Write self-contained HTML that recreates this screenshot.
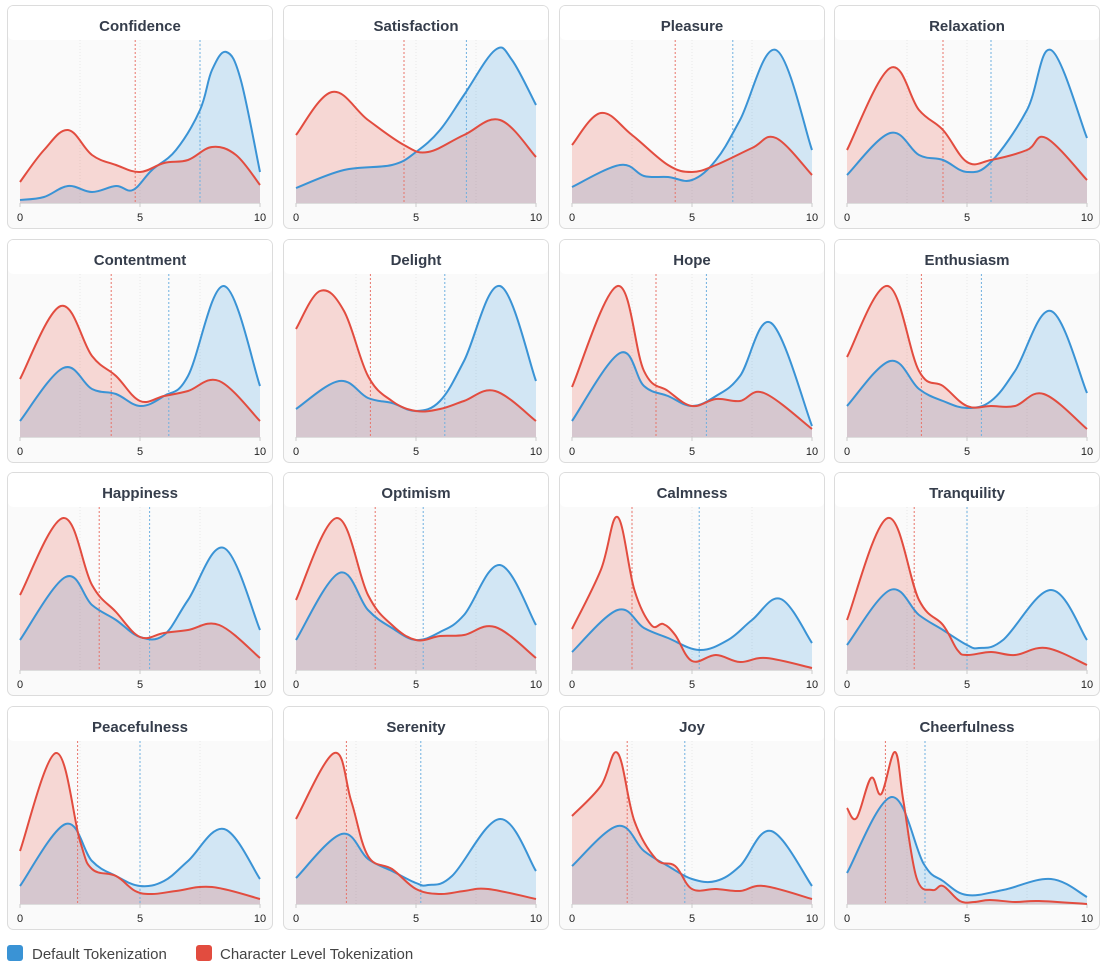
<!DOCTYPE html>
<html><head><meta charset="utf-8"><style>
body{margin:0;background:#fff;width:1106px;height:970px;overflow:hidden;font-family:"Liberation Sans","DejaVu Sans",sans-serif}
</style></head><body>
<svg id="s" width="1106" height="970" xmlns="http://www.w3.org/2000/svg" style="position:absolute;left:0;top:0">
<text x="32" y="959" font-size="15" fill="#444" font-family="Liberation Sans, sans-serif">Default Tokenization</text>
<text x="220" y="959" font-size="15" fill="#444" font-family="Liberation Sans, sans-serif">Character Level Tokenization</text>
<rect x="7" y="945" width="16" height="16" rx="3" fill="#3a93d5"/>
<rect x="196" y="945" width="16" height="16" rx="3" fill="#e24c3f"/>
</svg>
<script>
var P=[
["Confidence",4.8,7.5,[[0,3],[1,6],[2,17],[3,11],[4,17],[4.7,13],[5.5,33],[6.5,53],[7.5,93],[8,133],[8.6,151],[9.2,123],[10,31]],[[0,21],[1,53],[2,73],[3,48],[4,38],[5,31],[6,40],[7,43],[8,56],[9,48],[10,18]]],
["Satisfaction",4.5,7.1,[[0,15],[2,33],[4,38],[5,51],[6,73],[7,108],[8.3,153],[9,143],[10,98]],[[0,68],[1.5,111],[3,83],[4.5,58],[5.5,51],[7,68],[8.5,83],[10,46]]],
["Pleasure",4.3,6.7,[[0,16],[2,38],[3,27],[4,26],[5,23],[6,43],[7,83],[8.5,153],[10,53]],[[0,58],[1.2,90],[2.5,68],[4,38],[5,31],[6,38],[7.5,55],[8.5,65],[10,28]]],
["Relaxation",4.0,6.0,[[0,28],[1.8,70],[3,48],[4,43],[5,31],[6,41],[7.5,93],[8.5,153],[10,65]],[[0,53],[1.8,135],[3,93],[4,73],[5,41],[6,43],[7.5,53],[8.3,65],[10,23]]],
["Contentment",3.8,6.2,[[0,16],[1.8,69],[3,48],[4,43],[5,31],[6,41],[7,61],[8.5,151],[10,51]],[[0,58],[1.7,131],[3,81],[4,61],[5,36],[6,41],[7,46],[8.3,56],[10,16]]],
["Delight",3.1,6.2,[[0,28],[1.8,56],[3,39],[4,34],[5,26],[6,36],[7,76],[8.5,151],[10,56]],[[0,108],[1,146],[2,126],[3,61],[4,36],[5,26],[6,28],[7,36],[8.3,46],[10,16]]],
["Hope",3.5,5.6,[[0,16],[2,84],[3,51],[4,41],[5,31],[6,41],[7,61],[8.3,114],[10,11]],[[0,50],[1.9,151],[3,66],[4,46],[5,31],[6,38],[7,36],[8,44],[10,8]]],
["Enthusiasm",3.1,5.6,[[0,31],[1.8,76],[3,48],[4,36],[5,29],[6,36],[7,66],[8.5,126],[10,44]],[[0,80],[1.7,151],[3,66],[4,51],[5,31],[6,31],[7,31],[8.2,43],[10,8]]],
["Happiness",3.3,5.4,[[0,30],[1.9,93],[3,65],[4,50],[5,33],[6,35],[7,70],[8.5,122],[10,40]],[[0,75],[1.8,152],[3,85],[4,58],[5,33],[6,37],[7,40],[8.3,45],[10,12]]],
["Optimism",3.3,5.3,[[0,30],[1.8,97],[3,60],[4,42],[5,30],[6,38],[7,55],[8.5,105],[10,45]],[[0,70],[1.7,152],[3,75],[4,45],[5,30],[6,34],[7,35],[8.3,43],[10,12]]],
["Calmness",2.5,5.3,[[0,18],[1.9,60],[3,42],[4,32],[5.3,20],[6.5,30],[7.5,50],[8.7,71],[10,27]],[[0,41],[1.2,100],[1.9,153],[2.6,80],[3.3,45],[3.8,46],[4.3,35],[5,9],[6,15],[7,8],[8.1,12],[10,2]]],
["Tranquility",2.8,5.0,[[0,25],[1.8,80],[3,55],[4,40],[5,25],[5.5,22],[6.5,30],[8.5,80],[10,30]],[[0,50],[1.7,152],[3,70],[4,45],[4.6,20],[5,15],[6,18],[7,15],[8.3,22],[10,5]]],
["Peacefulness",2.4,5.0,[[0,18],[1.9,80],[3,43],[4,28],[5,18],[6,23],[7,43],[8.5,75],[10,25]],[[0,53],[1.5,151],[2.5,63],[3,35],[4,28],[4.8,13],[5.5,10],[6.5,13],[8,17],[10,5]]],
["Serenity",2.1,5.2,[[0,26],[1.9,70],[3,45],[4,33],[5,21],[5.5,19],[6.5,28],[8.5,85],[10,33]],[[0,85],[1.6,151],[2.3,103],[3,48],[4,35],[5,15],[6,10],[7,13],[8,15],[10,5]]],
["Joy",2.3,4.7,[[0,38],[1.9,78],[3,53],[4,38],[5,25],[6,23],[7,38],[8.3,73],[10,18]],[[0,88],[1.2,118],[1.9,151],[2.6,83],[3.5,45],[4.3,38],[5,15],[6,15],[7,13],[8,18],[10,5]]],
["Cheerfulness",1.6,3.25,[[0,31],[1.86,107],[3.2,40],[4,23],[5,9],[6.5,14],[8.5,25],[10,7]],[[0,96],[0.4,86],[1.0,126],[1.43,110],[2.0,152],[2.35,103],[2.9,26],[3.55,14],[4.0,18],[4.7,3],[5.3,2],[5.95,4],[7,2],[8,3],[10,0]]]
];
var NS="http://www.w3.org/2000/svg",s=document.getElementById("s");
var colL=[7,283,559,834],rowT=[5,239,472,706],x0s=[20,296,572,847];
function el(t,a,txt){var e=document.createElementNS(NS,t);for(var k in a)e.setAttribute(k,a[k]);if(txt)e.textContent=txt;s.appendChild(e);return e;}
function path(pts,X,base){var p=pts.map(function(q){return [X(q[0]),base-q[1]];});var d="M"+p[0][0]+","+p[0][1];
for(var i=0;i<p.length-1;i++){var a=p[i-1]||p[i],b=p[i],c=p[i+1],e=p[i+2]||c;var t=0.18;
var c1x=b[0]+(c[0]-a[0])*t,c1y=b[1]+(c[1]-a[1])*t,c2x=c[0]-(e[0]-b[0])*t,c2y=c[1]-(e[1]-b[1])*t;
c1y=Math.min(c1y,base);c2y=Math.min(c2y,base);
d+=" C"+c1x.toFixed(1)+","+c1y.toFixed(1)+" "+c2x.toFixed(1)+","+c2y.toFixed(1)+" "+c[0].toFixed(1)+","+c[1].toFixed(1);}return d;}
P.forEach(function(pn,i){var c=i%4,r=Math.floor(i/4),L=colL[c],T=rowT[r],x0=x0s[c];
var X=function(v){return x0+v*24;},base=T+198;
el("rect",{x:L+0.5,y:T+0.5,width:265,height:223,rx:6,fill:"#fafafa",stroke:"#dcdcdc"});
el("rect",{x:L+1,y:T+1,width:264,height:34,rx:5,fill:"#fff"});
el("text",{x:L+133,y:T+26,"text-anchor":"middle","font-size":"15","font-weight":"bold",fill:"#353d4b"},pn[0]);
[2.5,5,7.5].forEach(function(g){el("line",{x1:X(g),x2:X(g),y1:T+35,y2:base,stroke:"#e8e8e8","stroke-dasharray":"1,2"});});
el("line",{x1:X(0),x2:X(10),y1:base+0.5,y2:base+0.5,stroke:"#ddd"});
[0,5,10].forEach(function(g){el("line",{x1:X(g),x2:X(g),y1:base,y2:base+4,stroke:"#ccc"});
el("text",{x:X(g),y:base+18,"text-anchor":"middle","font-size":"11",fill:"#222"},String(g));});
var db=path(pn[3],X,base),dr=path(pn[4],X,base);
el("path",{d:db+" L"+X(10)+","+base+" L"+X(0)+","+base+"Z",fill:"rgba(52,152,219,0.2)"});
el("path",{d:dr+" L"+X(10)+","+base+" L"+X(0)+","+base+"Z",fill:"rgba(231,76,60,0.2)"});
el("line",{x1:X(pn[1]),x2:X(pn[1]),y1:T+35,y2:base,stroke:"#e8746a","stroke-dasharray":"2,2"});
el("line",{x1:X(pn[2]),x2:X(pn[2]),y1:T+35,y2:base,stroke:"#6fb0e0","stroke-dasharray":"2,2"});
el("path",{d:db,fill:"none",stroke:"#3a93d5","stroke-width":"2"});
el("path",{d:dr,fill:"none",stroke:"#e24c3f","stroke-width":"2"});
});
</script>
</body></html>
